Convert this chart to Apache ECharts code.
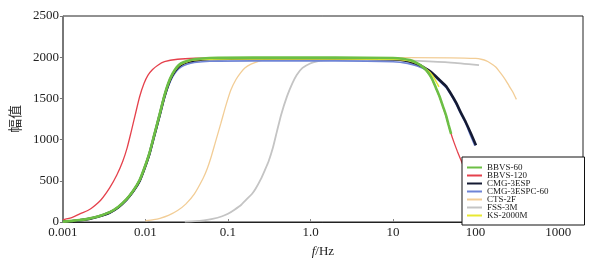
<!DOCTYPE html>
<html>
<head>
<meta charset="utf-8">
<script src="https://cdn.jsdelivr.net/npm/echarts@6/dist/echarts.min.js"></script>
<style>
  html, body { margin: 0; padding: 0; background: #fff; }
  #chart { width: 599px; height: 263px; }
</style>
</head>
<body>
<div id="chart"></div>
<script>
var seriesNames = ['BBVS-60', 'BBVS-120', 'CMG-3ESP', 'CMG-3ESPC-60', 'CTS-2F', 'FSS-3M', 'KS-2000M'];
var xTickLabels = { '-3': '0.001', '-2': '0.01', '-1': '0.1', '0': '1.0', '1': '10', '2': '100', '3': '1000' };

// [frequency Hz, amplitude]
var bbvs60 = [[0.001, 5], [0.0013, 14], [0.0016, 25], [0.002, 38], [0.0023, 51], [0.0029, 80], [0.0037, 119],
  [0.0047, 185], [0.0059, 277], [0.0071, 380], [0.0085, 510], [0.0097, 655], [0.0112, 840], [0.0128, 1060],
  [0.0148, 1300], [0.0169, 1527], [0.019, 1690], [0.0213, 1800], [0.024, 1880], [0.0269, 1924], [0.032, 1955],
  [0.039, 1975], [0.06, 1990], [0.2, 1995], [2, 1995], [10, 1990], [13, 1982], [16, 1965], [19, 1935], [22, 1895],
  [25, 1845], [28, 1780], [30, 1726], [33, 1630], [36.5, 1527], [40, 1410], [44, 1289], [47, 1180], [50.5, 1070]];
var bbvs120 = [[0.001, 27], [0.0013, 55], [0.0016, 99], [0.002, 140], [0.0023, 179], [0.0029, 270], [0.0037, 417],
  [0.0045, 570], [0.0053, 734], [0.006, 900], [0.0067, 1091], [0.0076, 1320], [0.0085, 1520], [0.0096, 1680],
  [0.0107, 1780], [0.0122, 1850], [0.014, 1900], [0.017, 1945], [0.0245, 1975], [0.04, 1987], [0.1, 1990], [2, 1992],
  [10, 1988], [13, 1980], [16, 1962], [19, 1930], [22, 1890], [25, 1840], [28, 1775], [30, 1720], [33, 1625],
  [36.5, 1520], [40, 1405], [44, 1280], [47, 1175], [50.4, 1071], [55, 960], [60, 860], [65, 775], [70, 694]];
var cmg3esp = [[0.001, 4], [0.0013, 13], [0.0016, 22], [0.002, 35], [0.0023, 48], [0.0029, 76], [0.0037, 115],
  [0.0047, 180], [0.0059, 272], [0.0071, 372], [0.0085, 500], [0.0097, 645], [0.0112, 830], [0.0128, 1050],
  [0.0148, 1290], [0.0169, 1515], [0.019, 1675], [0.0213, 1785], [0.024, 1860], [0.0269, 1905], [0.032, 1940],
  [0.039, 1960], [0.06, 1978], [0.2, 1985], [2, 1985], [10, 1975], [15, 1955], [20, 1915], [23, 1884], [27, 1840],
  [30, 1805], [36, 1730], [44, 1646], [50, 1560], [58, 1448], [66, 1330], [76, 1210], [88, 1070], [101, 932]];
var cmg3espc60 = [[0.001, 3], [0.0013, 12], [0.0016, 20], [0.002, 33], [0.0023, 45], [0.0029, 72], [0.0037, 110],
  [0.0047, 175], [0.0059, 265], [0.0071, 365], [0.0085, 490], [0.0097, 635], [0.0112, 815], [0.0128, 1035],
  [0.0148, 1270], [0.0169, 1495], [0.019, 1650], [0.0213, 1760], [0.024, 1835], [0.0269, 1880], [0.032, 1915],
  [0.039, 1935], [0.06, 1950], [0.2, 1955], [2, 1955], [10, 1945], [15, 1925], [20, 1890], [23, 1865], [27, 1825],
  [30, 1790], [36, 1715], [44, 1630], [50, 1545], [58, 1430], [66, 1315], [76, 1195], [86, 1060], [98, 925]];
var cts2f = [[0.01, 15], [0.0125, 28], [0.015, 45], [0.019, 80], [0.0245, 139], [0.031, 220], [0.039, 337],
  [0.05, 530], [0.056, 645], [0.0618, 773], [0.07, 960], [0.0816, 1190], [0.094, 1410], [0.108, 1600], [0.125, 1730],
  [0.142, 1810], [0.16, 1870], [0.19, 1915], [0.225, 1943], [0.28, 1970], [0.5, 1988], [5, 1995], [50, 1993],
  [100, 1985], [120, 1972], [135, 1955], [150, 1930], [174, 1884], [200, 1810], [230, 1726], [255, 1650],
  [279, 1587], [312, 1488]];
var fss3m = [[0.03, 5], [0.04, 10], [0.051, 20], [0.065, 38], [0.085, 70], [0.1, 100], [0.12, 150], [0.145, 210],
  [0.17, 280], [0.195, 340], [0.215, 400], [0.25, 520], [0.28, 630], [0.31, 734], [0.35, 900], [0.39, 1091],
  [0.44, 1300], [0.52, 1527], [0.6, 1680], [0.68, 1785], [0.8, 1870], [0.99, 1924], [1.2, 1950], [1.43, 1962],
  [3, 1968], [10, 1965], [20, 1955], [50, 1935], [110, 1905]];
var ks2000m = [[0.001, 4], [0.0013, 13], [0.0016, 24], [0.002, 37], [0.0023, 50], [0.0029, 78], [0.0037, 117],
  [0.0047, 183], [0.0059, 275], [0.0071, 376], [0.0085, 505], [0.0097, 650], [0.0112, 835], [0.0128, 1055],
  [0.0148, 1295], [0.0169, 1520], [0.019, 1682], [0.0213, 1790], [0.024, 1868], [0.0269, 1912], [0.032, 1945],
  [0.039, 1965], [0.06, 1975], [0.2, 1978], [2, 1978], [10, 1975], [15, 1960], [20, 1920], [25, 1860], [30, 1780],
  [36, 1640]];

var seriesData = [bbvs60, bbvs120, cmg3esp, cmg3espc60, cts2f, fss3m, ks2000m];
var colors = ['#6cbf45', '#e5414c', '#141a33', '#6f84d6', '#f2cd96', '#c4c4c4', '#e8e832'];
var widths = [2.6, 1.3, 2.6, 1.6, 1.3, 1.8, 1.5];
var zs = [8, 3, 6, 5, 1, 2, 7];

var chart = echarts.init(document.getElementById('chart'));
var serif = 'Liberation Serif';

var series = seriesNames.map(function (name, i) {
  return {
    name: name,
    type: 'line',
    data: seriesData[i],
    smooth: 0.2,
    showSymbol: false,
    symbol: 'none',
    z: zs[i],
    color: colors[i],
    lineStyle: { width: widths[i], color: colors[i] }
  };
});

var option = {
  animation: false,
  grid: { left: 58, right: 16, top: 16, bottom: 38, show: true, borderColor: '#222', borderWidth: 1 },
  legend: {
    data: seriesNames,
    orient: 'vertical',
    left: 462,
    bottom: 38,
    padding: [6, 36, 5, 5],
    itemGap: -1,
    itemWidth: 15,
    itemHeight: 2,
    icon: 'rect',
    selectedMode: false,
    backgroundColor: '#fff',
    borderColor: '#111',
    borderWidth: 1,
    z: 20,
    textStyle: { fontFamily: serif, fontSize: 9, color: '#222' }
  },
  xAxis: {
    type: 'log',
    logBase: 10,
    min: 0.001,
    max: 2000,
    name: '{i|f}/Hz',
    nameLocation: 'middle',
    nameGap: 23,
    nameTextStyle: {
      fontFamily: serif, fontSize: 13, color: '#222',
      rich: { i: { fontFamily: serif, fontStyle: 'italic', fontSize: 13, color: '#222' } }
    },
    axisLine: { lineStyle: { color: '#222', width: 1 } },
    axisTick: { inside: true, length: 3, lineStyle: { color: '#888' } },
    splitLine: { show: false },
    axisLabel: {
      fontFamily: serif, fontSize: 13, color: '#222', margin: 4,
      formatter: function (v) {
        var e = Math.round(Math.log10(v));
        if (Math.abs(Math.log10(v) - e) > 1e-6) return '';
        return xTickLabels[String(e)] || '';
      }
    }
  },
  yAxis: {
    type: 'value',
    min: 0,
    max: 2500,
    interval: 500,
    name: '幅值',
    nameLocation: 'middle',
    nameGap: 30,
    nameTextStyle: { fontFamily: 'Noto Sans CJK SC', fontSize: 14, color: '#333' },
    axisLine: { show: true, lineStyle: { color: '#777', width: 1 } },
    axisTick: { show: true, length: 3, lineStyle: { color: '#777' } },
    splitLine: { show: false },
    axisLabel: {
      fontFamily: serif, fontSize: 13, color: '#222', margin: 4,
      formatter: function (v) { return String(v); }
    }
  },
  series: series
};
chart.setOption(option);
</script>
</body>
</html>
